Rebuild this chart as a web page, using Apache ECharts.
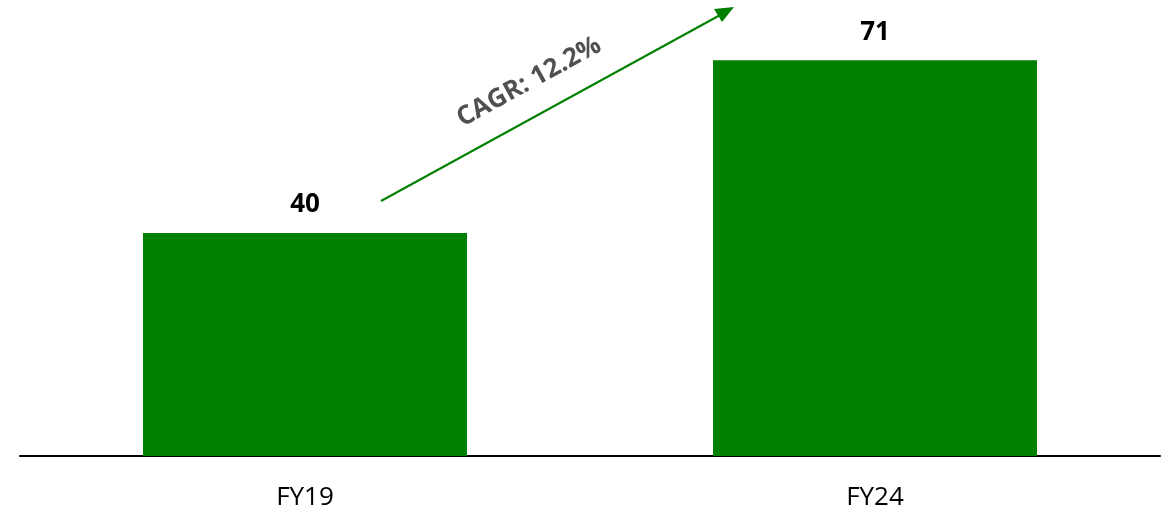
<!DOCTYPE html>
<html lang="en">
<head>
    <meta charset="UTF-8">
    <script src="https://cdn.jsdelivr.net/npm/echarts@6/dist/echarts.min.js"></script>
    <title>CAGR</title>
    <style>
        html, body { margin: 0; padding: 0; background: #fff; }
    </style>
</head>
<body>
    <div id="main" style="width: 1165px;height:512px;"></div>
    <script type="text/javascript">
        var categories = ['FY19', 'FY24'];
        var values = [40, 71];
        var cagrText = 'CAGR: 12.2%';

        var myChart = echarts.init(document.getElementById('main'));

        var option = {
            animation: false,
            grid: { left: 20, right: 5, top: 10, bottom: 56 },
            xAxis: {
                type: 'category',
                data: categories,
                axisLine: { lineStyle: { color: '#000', width: 2 } },
                axisTick: { show: false },
                axisLabel: {
                    color: '#000',
                    fontSize: 26,
                    fontFamily: 'Open Sans',
                    margin: 29
                }
            },
            yAxis: {
                type: 'value',
                min: 0,
                max: 80,
                show: false,
                splitLine: { show: false }
            },
            series: [{
                type: 'bar',
                data: values,
                barWidth: 324,
                itemStyle: { color: '#008000' },
                label: {
                    show: true,
                    position: 'top',
                    distance: 15,
                    color: '#000',
                    fontSize: 26,
                    fontWeight: 'bold',
                    fontFamily: 'Open Sans'
                }
            }],
            graphic: [
                {
                    type: 'line',
                    shape: { x1: 381, y1: 201, x2: 722, y2: 14 },
                    style: { stroke: '#008000', lineWidth: 2 }
                },
                {
                    type: 'polygon',
                    shape: { points: [[734, 7], [714, 9], [722, 22]] },
                    style: { fill: '#008000' }
                },
                {
                    type: 'text',
                    x: 529,
                    y: 82,
                    rotation: 0.503,
                    style: {
                        text: cagrText,
                        fill: '#505050',
                        font: 'bold 26px "Open Sans"',
                        align: 'center',
                        verticalAlign: 'middle'
                    }
                }
            ]
        };

        myChart.setOption(option);
    </script>
</body>
</html>
